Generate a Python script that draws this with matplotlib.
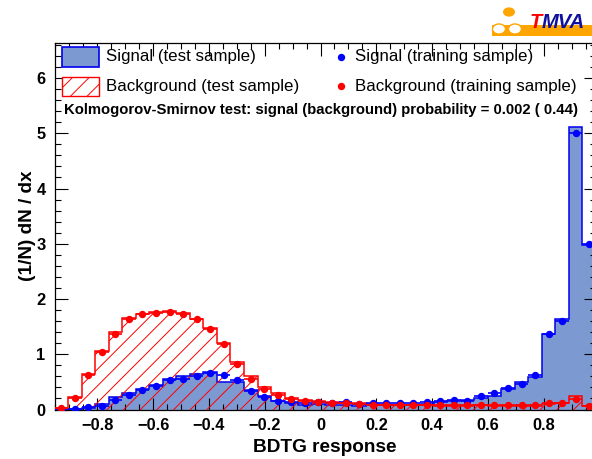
import matplotlib
matplotlib.use("Agg")
import matplotlib.pyplot as plt
import numpy as np
from matplotlib.patches import Rectangle, Circle
from matplotlib.lines import Line2D
from matplotlib.ticker import MultipleLocator

# --------------------------
# data (40 bins of BDTG response)
# --------------------------
x_lo, x_hi, n_bins = -0.953, 0.987, 40

sig_test = [0.00, 0.01, 0.03, 0.10, 0.22, 0.30, 0.37, 0.45, 0.56, 0.60,
            0.65, 0.68, 0.50, 0.50, 0.36, 0.24, 0.16, 0.11, 0.09, 0.10,
            0.09, 0.08, 0.07, 0.08, 0.08, 0.08, 0.09, 0.10, 0.13, 0.16,
            0.17, 0.21, 0.25, 0.38, 0.49, 0.59, 1.37, 1.63, 5.11, 2.98]
sig_train = [0.00, 0.01, 0.04, 0.07, 0.18, 0.27, 0.36, 0.42, 0.53, 0.56,
             0.60, 0.66, 0.63, 0.53, 0.34, 0.22, 0.16, 0.13, 0.11, 0.14,
             0.12, 0.13, 0.10, 0.12, 0.11, 0.12, 0.11, 0.13, 0.16, 0.17,
             0.16, 0.24, 0.30, 0.39, 0.47, 0.62, 1.36, 1.61, 5.01, 3.00]
bkg_test = [0.03, 0.23, 0.65, 1.05, 1.40, 1.66, 1.73, 1.76, 1.78, 1.74,
            1.64, 1.48, 1.20, 0.86, 0.60, 0.40, 0.30, 0.21, 0.18, 0.15,
            0.13, 0.12, 0.11, 0.10, 0.09, 0.08, 0.08, 0.08, 0.07, 0.07,
            0.07, 0.08, 0.07, 0.07, 0.07, 0.07, 0.10, 0.11, 0.24, 0.06]
bkg_train = [0.02, 0.21, 0.62, 1.04, 1.37, 1.63, 1.72, 1.75, 1.76, 1.73,
             1.63, 1.46, 1.18, 0.82, 0.56, 0.37, 0.27, 0.19, 0.16, 0.13,
             0.12, 0.11, 0.10, 0.08, 0.08, 0.08, 0.09, 0.09, 0.08, 0.08,
             0.08, 0.09, 0.08, 0.08, 0.08, 0.08, 0.12, 0.12, 0.19, 0.06]

ks_text = 'Kolmogorov-Smirnov test: signal (background) probability = 0.002 ( 0.44)'

# --------------------------
# style
# --------------------------
plt.rcParams['font.family'] = ['Liberation Sans', 'DejaVu Sans']
plt.rcParams['hatch.linewidth'] = 0.7

W, H = 592, 459
sig_fill = '#7d99d1'
sig_line = '#0000ee'
bkg_col = '#ff0000'

def fx(x):
    return x / W

def fy(y):
    return 1 - y / H

fig = plt.figure(figsize=(W / 100, H / 100), dpi=100)
ax = fig.add_axes([fx(54.5), fy(409.5), (596 - 54.5) / W, (409.5 - 42.7) / H])

edges = np.linspace(x_lo, x_hi, n_bins + 1)
centers = 0.5 * (edges[:-1] + edges[1:])
half = 0.5 * (edges[1] - edges[0])

# signal test: filled blue
ax.stairs(sig_test, edges, fill=True, color=sig_fill, zorder=1)
ax.stairs(sig_test, edges, color=sig_line, linewidth=1.1, zorder=2)
# background test: red hatch
ax.stairs(bkg_test, edges, fill=True, facecolor='none', edgecolor=bkg_col,
          hatch='//', linewidth=0, zorder=3)
ax.stairs(bkg_test, edges, color=bkg_col, linewidth=1.1, zorder=4)

# training samples: points with bin-width bars
ax.errorbar(centers, sig_train, xerr=half, fmt='o', color='#0000ff',
            markersize=4.3, elinewidth=1.2, capsize=0, zorder=5)
ax.errorbar(centers, bkg_train, xerr=half, fmt='o', color=bkg_col,
            markersize=4.3, elinewidth=1.2, capsize=0, zorder=6)

ax.set_xlim(x_lo, x_hi)
ax.set_ylim(0, 6.64)
ax.xaxis.set_major_locator(MultipleLocator(0.2))
ax.xaxis.set_minor_locator(MultipleLocator(0.05))
ax.yaxis.set_major_locator(MultipleLocator(1))
ax.yaxis.set_minor_locator(MultipleLocator(0.2))
ax.tick_params(which='both', direction='in', top=True, right=True, width=0.8)
ax.tick_params(which='major', length=9)
ax.tick_params(which='minor', length=4)
ax.tick_params(axis='x', pad=6)
ax.tick_params(axis='y', pad=6.5)
ax.xaxis.set_major_formatter(plt.FuncFormatter(lambda v, p: '0' if abs(v) < 1e-9 else f'{v:.1f}'.replace('-', '\u2212')))
for lab in ax.get_xticklabels() + ax.get_yticklabels():
    lab.set_fontsize(11.8)
    lab.set_fontweight('bold')
for s in ax.spines.values():
    s.set_linewidth(0.9)

fig.text(fx(325), fy(447), 'BDTG response', ha='center', va='center',
         fontsize=13.7, fontweight='bold')
fig.text(fx(27), fy(226), '(1/N) dN / dx', ha='center', va='center',
         rotation=90, fontsize=13.7, fontweight='bold')

# --------------------------
# legend drawn by hand
# --------------------------
fig.patches.append(Rectangle((fx(62), fy(67.3)), fx(99 - 62), (67.3 - 46.7) / H,
                             transform=fig.transFigure, facecolor=sig_fill,
                             edgecolor=sig_line, linewidth=1.2))
fig.patches.append(Rectangle((fx(62), fy(95.5)), fx(99 - 62), (95.5 - 76.5) / H,
                             transform=fig.transFigure, facecolor='white',
                             edgecolor=bkg_col, hatch='//', linewidth=1.0))
fig.text(fx(106), fy(57), 'Signal (test sample)', va='center', fontsize=12.2)
fig.text(fx(106), fy(86), 'Background (test sample)', va='center', fontsize=12.2)
fig.lines.append(Line2D([fx(341)], [fy(57)], marker='o', markersize=4.3,
                        color='#0000ff', transform=fig.transFigure))
fig.lines.append(Line2D([fx(341)], [fy(86)], marker='o', markersize=4.3,
                        color=bkg_col, transform=fig.transFigure))
fig.text(fx(355), fy(57), 'Signal (training sample)', va='center', fontsize=12.2)
fig.text(fx(355), fy(86), 'Background (training sample)', va='center', fontsize=12.2)
fig.text(fx(64), fy(110), ks_text, va='center', fontsize=10.7, fontweight='bold')

# --------------------------
# TMVA logo (rough)
# --------------------------
orange = '#ffa500'
fig.patches.append(Rectangle((fx(492), fy(36)), fx(100), 11 / H,
                             transform=fig.transFigure, facecolor=orange,
                             edgecolor='none'))
fig.patches.append(Circle((fx(509), fy(12)), 6 / W, transform=fig.transFigure,
                          facecolor=orange, edgecolor='none'))
for cx in (499, 515):
    fig.patches.append(Circle((fx(cx), fy(29)), 6.5 / W, transform=fig.transFigure,
                              facecolor='white', edgecolor=orange, linewidth=1))
fig.text(fx(530), fy(22), 'T', color='#ff0000', fontsize=14.5, fontweight='bold',
         style='italic', va='center')
fig.text(fx(542), fy(22), 'MVA', color='#1010a0', fontsize=14.5, fontweight='bold',
         style='italic', va='center')

fig.savefig('out.png', dpi=100)
